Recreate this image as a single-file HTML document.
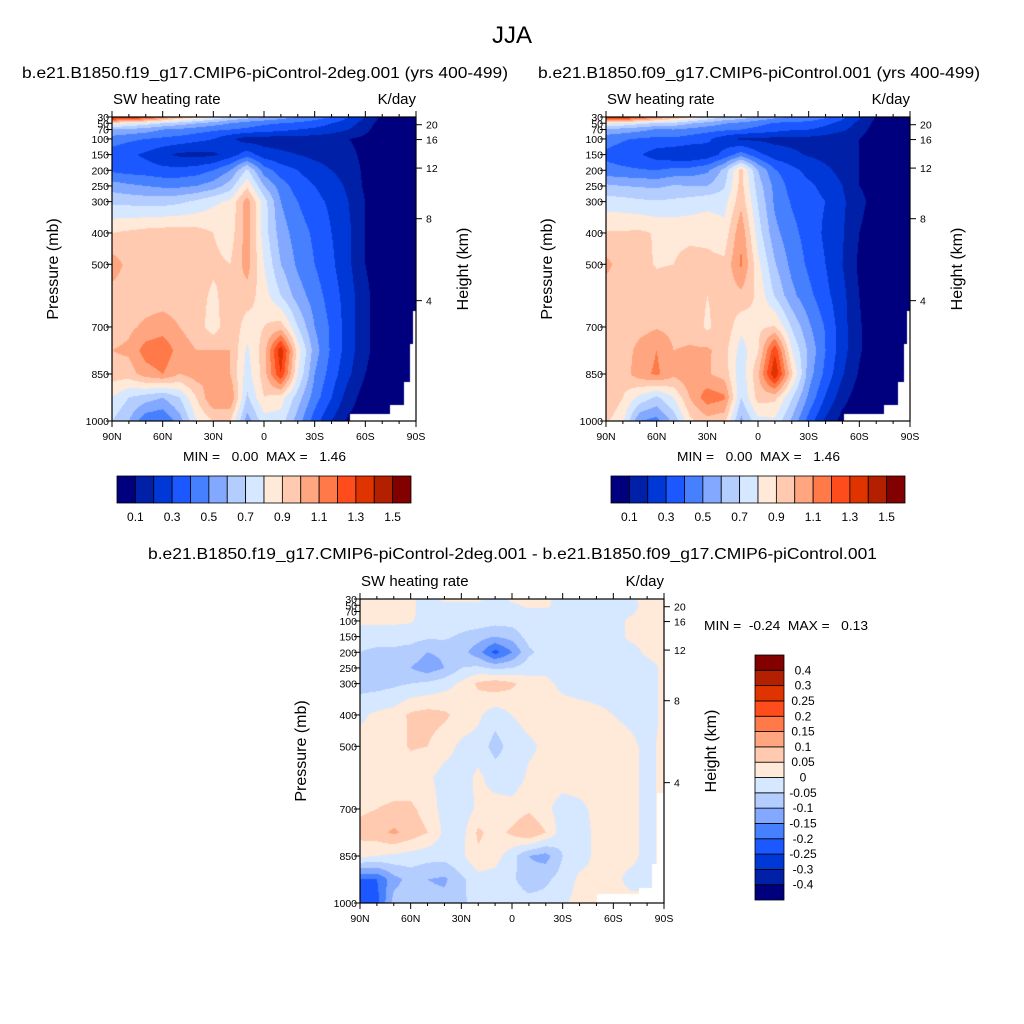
<!DOCTYPE html>
<html><head><meta charset="utf-8">
<style>
html,body{margin:0;padding:0;background:#fff;}
#wrap{position:relative;width:1024px;height:1024px;overflow:hidden;font-family:"Liberation Sans",sans-serif;}
canvas{position:absolute;}
svg{position:absolute;left:0;top:0;}
</style></head>
<body>
<div id="wrap">
<canvas id="c1" width="304" height="304" style="left:112px;top:117px"></canvas>
<canvas id="c2" width="304" height="304" style="left:606px;top:117px"></canvas>
<canvas id="c3" width="304" height="304" style="left:360px;top:599px"></canvas>
<svg id="ov" width="1024" height="1024">
<text x="512" y="43" font-size="24" text-anchor="middle">JJA</text>
<text x="22" y="78" font-size="16" textLength="486" lengthAdjust="spacingAndGlyphs">b.e21.B1850.f19_g17.CMIP6-piControl-2deg.001 (yrs 400-499)</text>
<text x="538" y="78" font-size="16" textLength="442" lengthAdjust="spacingAndGlyphs">b.e21.B1850.f09_g17.CMIP6-piControl.001 (yrs 400-499)</text>
<text x="148" y="559" font-size="16" textLength="729" lengthAdjust="spacingAndGlyphs">b.e21.B1850.f19_g17.CMIP6-piControl-2deg.001 - b.e21.B1850.f09_g17.CMIP6-piControl.001</text>
</svg>
</div>
<script>
const pLevels=[30,50,70,100,150,200,250,300,400,500,600,700,775,850,925,1000];
const lats=[90,80,70,60,50,40,30,20,10,0,-10,-20,-30,-40,-50,-60,-70,-80,-90];
// SW heating rate, f19 run (K/day), rows = pLevels, cols = lats
const fieldA=[
[1.45,1.4,1.3,1.15,1.0,0.9,0.8,0.7,0.65,0.6,0.55,0.5,0.45,0.4,0.3,0.2,0.08,0.05,0.05],
[0.85,0.8,0.75,0.7,0.65,0.6,0.55,0.5,0.45,0.42,0.4,0.38,0.35,0.3,0.25,0.15,0.05,0.05,0.05],
[0.6,0.58,0.55,0.5,0.48,0.45,0.42,0.4,0.38,0.35,0.33,0.3,0.28,0.25,0.2,0.12,0.05,0.05,0.05],
[0.45,0.42,0.4,0.38,0.36,0.33,0.3,0.22,0.15,0.15,0.15,0.15,0.15,0.13,0.1,0.08,0.05,0.03,0.03],
[0.35,0.32,0.28,0.22,0.18,0.17,0.18,0.25,0.35,0.25,0.22,0.2,0.17,0.15,0.12,0.08,0.05,0.03,0.03],
[0.38,0.36,0.35,0.33,0.33,0.35,0.4,0.5,0.72,0.45,0.35,0.3,0.25,0.2,0.15,0.08,0.05,0.03,0.03],
[0.55,0.52,0.5,0.48,0.48,0.5,0.55,0.65,0.88,0.6,0.45,0.35,0.3,0.25,0.18,0.08,0.05,0.03,0.03],
[0.68,0.67,0.66,0.66,0.68,0.72,0.78,0.82,1.05,0.75,0.5,0.4,0.33,0.28,0.2,0.1,0.05,0.03,0.03],
[0.9,0.92,0.94,0.95,0.95,0.94,0.9,0.85,1.05,0.75,0.55,0.45,0.38,0.3,0.22,0.1,0.05,0.03,0.03],
[1.05,0.97,0.95,0.95,0.95,0.95,0.92,0.9,1.05,0.8,0.6,0.48,0.4,0.32,0.22,0.1,0.05,0.03,0.03],
[0.96,0.96,0.95,0.95,0.95,0.94,0.88,0.95,0.95,0.85,0.7,0.55,0.45,0.35,0.25,0.12,0.05,0.03,0.03],
[0.95,0.98,1.02,1.05,1.0,0.95,0.85,0.98,0.85,0.9,0.95,0.7,0.5,0.38,0.25,0.12,0.05,0.03,0.03],
[1.0,1.02,1.15,1.18,1.05,1.0,1.0,1.0,0.78,0.95,1.38,0.85,0.55,0.38,0.25,0.12,0.05,0.03,0.03],
[0.95,0.95,1.05,1.1,1.0,1.05,1.0,1.0,0.75,0.95,1.3,0.8,0.5,0.35,0.22,0.1,0.05,0.03,0.03],
[0.8,0.7,0.65,0.6,0.7,0.9,1.1,1.1,0.68,0.9,0.85,0.65,0.45,0.3,0.15,0.05,0.05,0.03,0.03],
[0.7,0.6,0.42,0.4,0.55,0.8,0.9,0.9,0.55,0.75,0.75,0.55,0.35,0.2,0.08,0.05,0.05,0.03,0.03]
];
// difference f19 - f09 (K/day)
const diffD=[
[0.02,0.02,0.02,0.01,-0.02,0.01,0.01,0.01,-0.02,0.01,0.02,0.01,-0.02,-0.02,-0.02,-0.02,-0.01,0.02,0.02],
[0.02,0.02,0.02,0.01,-0.02,-0.01,-0.01,-0.01,-0.02,-0.01,0.01,0.01,-0.02,-0.02,-0.02,-0.02,-0.02,0.02,0.02],
[0.02,0.02,0.02,0.01,-0.02,-0.02,-0.02,-0.02,-0.02,-0.02,-0.01,-0.01,-0.02,-0.02,-0.02,-0.02,-0.01,0.02,0.02],
[0.01,0.01,0.01,0.005,-0.02,-0.02,-0.02,-0.02,-0.03,-0.03,-0.02,-0.02,-0.02,-0.02,-0.02,-0.02,0.01,0.02,0.02],
[-0.03,-0.03,-0.03,-0.03,-0.04,-0.04,-0.06,-0.08,-0.1,-0.08,-0.03,-0.02,-0.02,-0.02,-0.02,-0.02,0.01,0.02,0.02],
[-0.05,-0.06,-0.06,-0.07,-0.1,-0.09,-0.08,-0.13,-0.22,-0.15,-0.06,-0.03,-0.02,-0.02,-0.02,-0.02,-0.02,0.01,0.02],
[-0.07,-0.08,-0.09,-0.1,-0.13,-0.1,-0.05,-0.04,-0.06,-0.05,-0.02,-0.01,-0.02,-0.02,-0.02,-0.02,-0.02,-0.02,0.01],
[-0.07,-0.07,-0.06,-0.05,-0.04,-0.02,0.01,0.06,0.08,0.06,0.02,0.01,-0.01,-0.02,-0.02,-0.02,-0.02,-0.02,0.01],
[-0.01,0.01,0.02,0.06,0.07,0.06,0.03,0.01,-0.03,0.0,0.02,0.02,0.02,0.02,0.01,0.0,-0.01,-0.02,0.01],
[0.02,0.02,0.03,0.055,0.05,0.02,-0.01,-0.02,-0.07,-0.03,-0.01,0.01,0.02,0.02,0.02,0.02,0.01,-0.01,0.01],
[0.02,0.02,0.02,0.02,0.01,-0.02,-0.02,0.01,-0.02,-0.03,0.01,0.02,0.02,0.02,0.02,0.02,0.01,-0.01,0.01],
[0.04,0.05,0.06,0.06,0.03,-0.02,-0.03,0.01,0.02,0.02,0.04,0.01,-0.02,-0.01,0.01,0.01,0.01,-0.01,0.01],
[0.07,0.08,0.11,0.08,0.05,-0.01,-0.02,0.06,0.03,0.06,0.1,0.05,-0.03,-0.02,0.01,0.01,0.01,-0.01,0.01],
[0.01,0.0,-0.01,-0.02,-0.03,-0.03,-0.01,0.04,0.02,-0.03,-0.1,-0.12,-0.05,-0.02,0.01,0.01,0.01,-0.01,0.01],
[-0.2,-0.2,-0.12,-0.08,-0.1,-0.11,-0.06,-0.02,-0.02,-0.04,-0.08,-0.06,-0.03,0.01,0.01,0.01,-0.01,-0.01,0.01],
[-0.22,-0.22,-0.08,-0.06,-0.08,-0.08,-0.06,-0.03,-0.02,-0.02,-0.03,-0.03,-0.01,0.02,0.02,0.02,0.01,0.01,0.01]
];
// f09 field derived from f19 and the plotted difference
const fieldB=fieldA.map((row,i)=>row.map((v,j)=>Math.max(0,v-diffD[i][j])));
// surface pressure mask (below ground = white)
const maskLat=[-50.7,-74.4,-82.7,-86.7,-88.3];
const maskP=[977,950,876,754,648];
const maskLat3=[-50.4,-75.2,-83.1,-86.0];
const maskP3=[972,952,874,648];
const colors=['#00007f','#0020a8','#0038d8','#1c58ff','#4680ff','#82a8ff','#b4cdff','#d6e8ff','#ffe9d8','#ffcab0','#ffa680','#ff7a48','#ff4c1c','#e03400','#b32000','#820000'];
const absLevels=[0.1,0.2,0.3,0.4,0.5,0.6,0.7,0.8,0.9,1.0,1.1,1.2,1.3,1.4,1.5];
const diffLevels=[-0.4,-0.3,-0.25,-0.2,-0.15,-0.1,-0.05,0,0.05,0.1,0.15,0.2,0.25,0.3,0.4];
const absBarLabels=['0.1','0.3','0.5','0.7','0.9','1.1','1.3','1.5'];
const diffBarLabels=['-0.4','-0.3','-0.25','-0.2','-0.15','-0.1','-0.05','0','0.05','0.1','0.15','0.2','0.25','0.3','0.4'];
const presTicks=[30,50,70,100,150,200,250,300,400,500,700,850,1000];
const heightTicks=[20,16,12,8,4];
const heightTickP=[54.6,102,193,354.5,616];
const latTicks=[90,60,30,0,-30,-60,-90];
const latLabels=['90N','60N','30N','0','30S','60S','90S'];
const latMinor=[80,70,50,40,20,10,-10,-20,-40,-50,-70,-80];

function hex(c){return [parseInt(c.substr(1,2),16),parseInt(c.substr(3,2),16),parseInt(c.substr(5,2),16)];}
const rgb=colors.map(hex);
function sample(grid,lat,p){
  let f=(90-lat)/10; let j=Math.min(17,Math.floor(f)); let tx=f-j;
  let k=0; while(k<pLevels.length-2 && p>pLevels[k+1]) k++;
  let ty=(p-pLevels[k])/(pLevels[k+1]-pLevels[k]); ty=Math.max(0,Math.min(1,ty));
  const a=grid[k][j],b=grid[k][j+1],c=grid[k+1][j],d=grid[k+1][j+1];
  return (a*(1-tx)+b*tx)*(1-ty)+(c*(1-tx)+d*tx)*ty;
}
function drawField(id,grid,levels,mLat,mP){
  const cv=document.getElementById(id),ctx=cv.getContext('2d');
  const W=cv.width,H=cv.height,img=ctx.createImageData(W,H);
  for(let py=0;py<H;py++){
    const p=30+(py+0.5)/H*970;
    for(let px=0;px<W;px++){
      const lat=90-(px+0.5)/W*180;
      let ps=2000; for(let m=0;m<mLat.length;m++){ if(lat<mLat[m]) ps=mP[m]; }
      const o=(py*W+px)*4;
      if(p>ps){img.data[o]=255;img.data[o+1]=255;img.data[o+2]=255;img.data[o+3]=255;continue;}
      const v=sample(grid,lat,p);
      let L=0; while(L<levels.length && v>=levels[L]) L++;
      const c=rgb[L]; img.data[o]=c[0];img.data[o+1]=c[1];img.data[o+2]=c[2];img.data[o+3]=255;
    }
  }
  ctx.putImageData(img,0,0);
}
drawField('c1',fieldA,absLevels,maskLat,maskP);
drawField('c2',fieldB,absLevels,maskLat,maskP);
drawField('c3',diffD,diffLevels,maskLat3,maskP3);

const NS='http://www.w3.org/2000/svg';
const ov=document.getElementById('ov');
function el(tag){const e=document.createElementNS(NS,tag);ov.appendChild(e);return e;}
function line(x1,y1,x2,y2,w){const e=el('line');e.setAttribute('x1',x1);e.setAttribute('y1',y1);e.setAttribute('x2',x2);e.setAttribute('y2',y2);e.setAttribute('stroke','#000');e.setAttribute('stroke-width',w||1);return e;}
function txt(x,y,s,size,anchor){const e=el('text');e.setAttribute('x',x);e.setAttribute('y',y);e.setAttribute('font-size',size);e.setAttribute('text-anchor',anchor||'start');e.textContent=s;return e;}

function axes(x0,y0,pfx){
  const W=304,H=304;
  const xs=lat=>x0+(90-lat)/180*W;
  const ys=p=>y0+(p-30)/970*H;
  const fr=el('rect');fr.setAttribute('x',x0);fr.setAttribute('y',y0);fr.setAttribute('width',W);fr.setAttribute('height',H);fr.setAttribute('fill','none');fr.setAttribute('stroke','#000');fr.setAttribute('stroke-width','1.2');
  
  
  latTicks.forEach((lt,i)=>{
    const x=xs(lt);
    const t1=line(x,y0+H,x,y0+H+6);
    
    
    const t2=line(x,y0,x,y0-6);
    
    
    const l=txt(x,y0+H+19,latLabels[i],10.5,'middle');
    
    
  });
  latMinor.forEach(lt=>{
    const x=xs(lt);
    const a=line(x,y0+H,x,y0+H+3);
    
    
    const b=line(x,y0,x,y0-3);
    
    
  });
  presTicks.forEach(p=>{
    const y=ys(p);
    const t=line(x0-6,y,x0,y);
    
    
    const l=txt(x0-3,y+4,String(p),10.5,'end');
    
    
  });
  heightTicks.forEach((h,i)=>{
    const y=ys(heightTickP[i]);
    const t=line(x0+W,y,x0+W+6,y);
    
    
    const l=txt(x0+W+10,y+4,String(h),10.5,'start');
    
    
  });
  const lt=txt(x0+1,y0-13,'SW heating rate',15,'start');
  
  
  const rt=txt(x0+W,y0-13,'K/day',15,'end');
  
  
  const yl=txt(0,0,'Pressure (mb)',16,'middle');
  yl.setAttribute('transform','translate('+(x0-54)+','+(y0+H/2)+') rotate(-90)');
  
  
  const hl=txt(0,0,'Height (km)',16,'middle');
  hl.setAttribute('transform','translate('+(x0+W+52)+','+(y0+H/2)+') rotate(-90)');
  
  
}
axes(112,117,'panel1');
axes(606,117,'panel2');
axes(360,599,'panel3');

function hbar(x0,y0,pfx,mid){
  const bw=294/16;
  colors.forEach((c,i)=>{
    const r=el('rect');r.setAttribute('x',x0+i*bw);r.setAttribute('y',y0);r.setAttribute('width',bw);r.setAttribute('height',27);r.setAttribute('fill',c);r.setAttribute('stroke','#000');r.setAttribute('stroke-width','0.8');
    
    
  });
  absBarLabels.forEach((s,i)=>{
    const l=txt(x0+(2*i+1)*bw,y0+45,s,12,'middle');
    
    
  });
  const m=txt(mid-82,y0-15,'MIN =   0.00  MAX =   1.46',12.5,'start');
  m.style.whiteSpace='pre';
  m.setAttribute('textLength','163');
  m.setAttribute('lengthAdjust','spacingAndGlyphs');
  
  
}
hbar(117,476,'panel1',265);
hbar(611,476,'panel2',759);

(function(){
  const x0=755,y0=655,bh=245/16;
  colors.forEach((c,i)=>{
    const r=el('rect');r.setAttribute('x',x0);r.setAttribute('y',y0+(15-i)*bh);r.setAttribute('width',29);r.setAttribute('height',bh);r.setAttribute('fill',c);r.setAttribute('stroke','#000');r.setAttribute('stroke-width','0.8');
    
    
  });
  diffBarLabels.forEach((s,i)=>{
    const l=txt(803,y0+(15-i)*bh+4,s,12,'middle');
    
    
  });
  const m=txt(704,630,'MIN =  -0.24  MAX =   0.13',12.5,'start');
  m.style.whiteSpace='pre';
  m.setAttribute('textLength','164');
  m.setAttribute('lengthAdjust','spacingAndGlyphs');
  
  
})();
</script>
</body></html>
